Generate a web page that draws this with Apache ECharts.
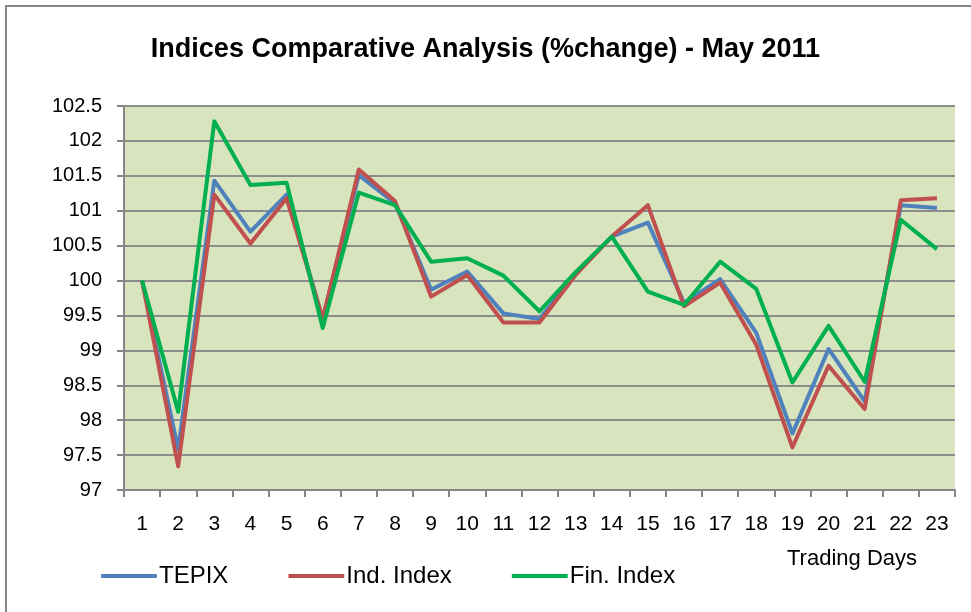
<!DOCTYPE html>
<html>
<head>
<meta charset="utf-8">
<script src="https://cdn.jsdelivr.net/npm/echarts@6/dist/echarts.min.js"></script>
<style>
  html, body { margin: 0; padding: 0; background: #fff; }
  #chart { width: 971px; height: 612px; }
</style>
</head>
<body>
<div id="chart"></div>
<script>
var days = ['1','2','3','4','5','6','7','8','9','10','11','12','13','14','15','16','17','18','19','20','21','22','23']
var tepix = [100, 97.58, 101.43, 100.70, 101.23, 99.45, 101.51, 101.11, 99.87, 100.13, 99.53, 99.45, 100.10, 100.63, 100.83, 99.68, 100.02, 99.25, 97.81, 99.02, 98.27, 101.08, 101.04]
var indIndex = [100, 97.34, 101.23, 100.53, 101.18, 99.45, 101.59, 101.14, 99.77, 100.08, 99.40, 99.40, 100.08, 100.63, 101.08, 99.63, 99.97, 99.08, 97.61, 98.78, 98.16, 101.15, 101.18]
var finIndex = [100, 98.12, 102.28, 101.37, 101.40, 99.32, 101.26, 101.08, 100.27, 100.32, 100.07, 99.56, 100.12, 100.63, 99.84, 99.65, 100.27, 99.88, 98.54, 99.35, 98.55, 100.87, 100.45]

var chart = echarts.init(document.getElementById('chart'))

function line(name, data, color) {
  return {
    name: name,
    type: 'line',
    data: data,
    symbol: 'none',
    lineStyle: { color: color, width: 4, join: 'round' },
    itemStyle: { color: color }
  }
}

chart.setOption({
  animation: false,
  title: {
    text: 'Indices Comparative Analysis (%change) - May 2011',
    left: 'center',
    top: 31,
    textStyle: {
      fontFamily: 'Liberation Sans, sans-serif',
      fontWeight: 'bold',
      fontSize: 27,
      color: '#000'
    }
  },
  graphic: [{
    type: 'rect',
    shape: { x: 6, y: 6, width: 1000, height: 700 },
    style: { fill: 'none', stroke: '#868686', lineWidth: 2 },
    silent: true
  }],
  legend: {
    left: 96,
    top: 559,
    itemWidth: 56,
    itemHeight: 4,
    itemGap: 60,
    icon: 'roundRect',
    textStyle: { fontFamily: 'Liberation Sans', fontSize: 24, color: '#000', padding: [0, 0, 0, -3] },
    data: ['TEPIX', 'Ind. Index', 'Fin. Index']
  },
  grid: {
    left: 124,
    right: 16,
    top: 106,
    bottom: 122,
    show: true,
    backgroundColor: '#d7e4bd',
    borderWidth: 0
  },
  xAxis: {
    type: 'category',
    data: days,
    boundaryGap: true,
    name: 'Trading Days',
    nameLocation: 'end',
    nameGap: 0,
    nameTextStyle: {
      fontFamily: 'Liberation Sans',
      fontSize: 22,
      color: '#000',
      align: 'right',
      verticalAlign: 'top',
      padding: [58, 38, 0, 0]
    },
    axisLine: { lineStyle: { color: '#868686', width: 2 } },
    axisTick: { show: true, length: 7, interval: 0, lineStyle: { color: '#868686', width: 2 } },
    axisLabel: {
      interval: 0,
      margin: 24,
      fontFamily: 'Liberation Sans, sans-serif',
      fontSize: 21,
      color: '#000'
    }
  },
  yAxis: {
    type: 'value',
    min: 97,
    max: 102.5,
    interval: 0.5,
    axisLine: { show: true, lineStyle: { color: '#868686', width: 2 } },
    axisTick: { show: true, length: 7, lineStyle: { color: '#868686', width: 2 } },
    splitLine: { lineStyle: { color: '#8c8c8c', width: 2 } },
    axisLabel: {
      margin: 22,
      fontFamily: 'Liberation Sans',
      fontSize: 20,
      color: '#000'
    }
  },
  series: [
    line('TEPIX', tepix, '#4f81bd'),
    line('Ind. Index', indIndex, '#c0504d'),
    line('Fin. Index', finIndex, '#00b050')
  ]
})
</script>
</body>
</html>
